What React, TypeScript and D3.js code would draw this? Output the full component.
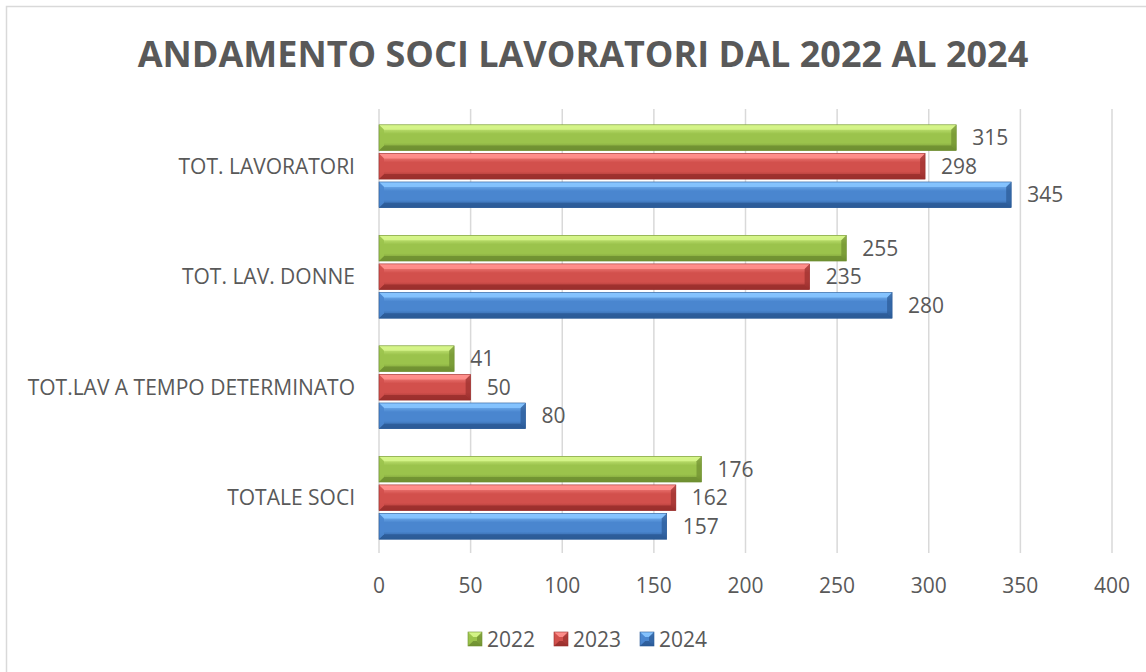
import React from 'react';
import * as d3 from 'd3';

const categories = ['TOT. LAVORATORI', 'TOT. LAV. DONNE', 'TOT.LAV A TEMPO DETERMINATO', 'TOTALE SOCI'];
const seriesNames = ['2022', '2023', '2024'];
const values2022 = [315, 255, 41, 176];
const values2023 = [298, 235, 50, 162];
const values2024 = [345, 280, 80, 157];
const xTicks = [0, 50, 100, 150, 200, 250, 300, 350, 400];

const seriesValues = [values2022, values2023, values2024];

// light / mid / dark tones for the bevelled bars
const palette = [
  { light: '#d6f58a', mid: '#9bc34c', dark: '#6f8f31' },
  { light: '#ff8f8c', mid: '#d2504c', dark: '#9a2f2d' },
  { light: '#86c4ff', mid: '#4a86cf', dark: '#2b5a96' },
];

const W = 1146;
const H = 672;
const font = '"Open Sans", "DejaVu Sans", sans-serif';
const textColor = '#595959';
const fs = 21;

function Bar({ x0, x1, y0, h, c, id }) {
  const b = Math.min(5, (x1 - x0) / 2);
  const y1 = y0 + h;
  return (
    <g>
      <rect x={x0} y={y0} width={x1 - x0} height={h} fill={`url(#grad${id})`} />
      <polygon
        points={`${x0},${y0} ${x1},${y0} ${x1 - b},${y0 + b} ${x0 + b},${y0 + b}`}
        fill={c.light}
        opacity={0.9}
      />
      <polygon
        points={`${x0},${y1} ${x1},${y1} ${x1 - b},${y1 - b} ${x0 + b},${y1 - b}`}
        fill={c.dark}
        opacity={0.85}
      />
      <polygon
        points={`${x0},${y0} ${x0 + b},${y0 + b} ${x0 + b},${y1 - b} ${x0},${y1}`}
        fill={c.mid}
        opacity={0.9}
      />
      <polygon
        points={`${x1},${y0} ${x1 - b},${y0 + b} ${x1 - b},${y1 - b} ${x1},${y1}`}
        fill={c.dark}
        opacity={0.7}
      />
      <rect x={x0} y={y0} width={x1 - x0} height={h} fill="none" stroke={c.dark} strokeWidth={0.6} />
    </g>
  );
}

export default function App() {
  const x = d3.scaleLinear().domain([0, 400]).range([379, 1112]);
  const y = d3
    .scaleBand()
    .domain(categories)
    .range([111, 553])
    .paddingInner(0.25)
    .paddingOuter(0.125);
  const ySub = d3
    .scaleBand()
    .domain(seriesNames)
    .range([0, y.bandwidth()])
    .paddingInner(0.1);

  const legendX = [468, 554, 640];

  return (
    <svg width={W} height={H} style={{ position: 'absolute', left: 0, top: 0, background: '#fff' }}>
      <defs>
        {palette.map((c, i) => (
          <linearGradient key={i} id={`grad${i}`} x1="0" y1="0" x2="0" y2="1">
            <stop offset="0" stopColor={c.light} />
            <stop offset="0.35" stopColor={c.mid} />
            <stop offset="0.7" stopColor={c.mid} />
            <stop offset="1" stopColor={c.dark} />
          </linearGradient>
        ))}
      </defs>
      <rect x={6.5} y={6.5} width={W + 10} height={H + 10} fill="#fff" stroke="#d9d9d9" strokeWidth={1.5} />

      <text
        x={583}
        y={67}
        textAnchor="middle"
        fontFamily={font}
        fontWeight="bold"
        fontSize={36}
        fill={textColor}
      >
        ANDAMENTO SOCI LAVORATORI DAL 2022 AL 2024
      </text>

      {xTicks.map((t) => (
        <line key={t} x1={x(t)} x2={x(t)} y1={109} y2={553} stroke="#d9d9d9" strokeWidth={1.5} />
      ))}

      {xTicks.map((t) => (
        <text key={t} x={x(t)} y={593} textAnchor="middle" fontFamily={font} fontSize={fs} fill={textColor}>
          {t}
        </text>
      ))}

      {categories.map((cat) => (
        <text
          key={cat}
          x={355}
          y={y(cat) + y.bandwidth() / 2 + 7.5}
          textAnchor="end"
          fontFamily={font}
          fontSize={fs}
          fill={textColor}
        >
          {cat}
        </text>
      ))}

      {categories.map((cat, ci) =>
        seriesNames.map((s, si) => {
          const v = seriesValues[si][ci];
          const y0 = y(cat) + ySub(s);
          const h = ySub.bandwidth();
          return (
            <g key={cat + s}>
              <Bar x0={x(0)} x1={x(v)} y0={y0} h={h} c={palette[si]} id={si} />
              <text
                x={x(v) + 16}
                y={y0 + h / 2 + 7.5}
                fontFamily={font}
                fontSize={fs}
                fill={textColor}
              >
                {v}
              </text>
            </g>
          );
        })
      )}

      {seriesNames.map((s, si) => (
        <g key={s}>
          <Bar x0={legendX[si]} x1={legendX[si] + 14} y0={632} h={14} c={palette[si]} id={si} />
          <text x={legendX[si] + 19} y={647} fontFamily={font} fontSize={fs} fill={textColor}>
            {s}
          </text>
        </g>
      ))}
    </svg>
  );
}
